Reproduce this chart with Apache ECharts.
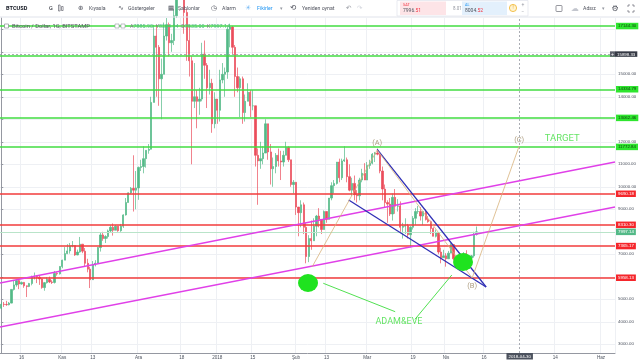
<!DOCTYPE html>
<html>
<head>
<meta charset="utf-8">
<script src="https://cdn.jsdelivr.net/npm/echarts@6/dist/echarts.min.js"></script>
<style>
html,body{margin:0;padding:0;background:#ffffff;overflow:hidden;}
#chart{width:640px;height:361px;}
</style>
</head>
<body>
<div id="chart"></div>
<script>
// ================= DATA =================
const startDate = '2017-10-08';
const dayCount = 242; // 2017-10-08 .. 2018-06-06

// Daily BTCUSD (Bitstamp) candles, 2017-10-08 .. 2018-04-13, read/
const openPrices = [
  4600,4780,4770,4760,4830,5440,5640,5830,5680,5750,5600,5570,5700,6000,6010,5980,5900,5520,5740,5890,5770,5750,6150,6130,
  6460,6740,7030,7150,7380,7390,6970,7100,7450,7140,6600,6340,5870,6530,6610,7300,7860,7700,7790,8040,8200,8070,8250,8050,8250,8750,9300,9730,9930,9850,
  9950,10860,10900,11250,11620,11670,13750,16700,16200,14800,15000,16700,17200,16400,16500,17600,19300,19000,18950,17750,16500,15600,13800,14000,13800,13900,15900,15400,14400,14600,12800,
  13900,13400,14750,15000,15100,17000,17100,16200,14900,14400,14800,13300,13800,14200,13600,13600,11400,11150,11250,11500,12800,11550,10800,10900,11400,11150,11100,11400,11750,11200,10100,
  10200,9100,8850,9200,8200,6900,7700,7600,8250,8700,8550,8100,8900,8550,9500,10050,10150,11100,10400,11150,11200,10450,9850,10150,9650,9600,10300,10600,
  10300,10950,11050,11450,11500,11450,10700,9900,9300,9230,8790,9530,9140,9150,8200,8250,8270,7870,8200,8600,8900,8900,8700,8900,8550,8450,8150,7800,7950,7100,6850,
  6930,6800,7050,7430,6800,6780,6620,6900,7030,6770,6830,6930,7885.90
];
const highPrices = [
  4890,4880,4930,4880,5450,5860,5840,5860,5790,5770,5610,5730,6050,6190,6070,6070,5920,5770,5980,6010,5850,6260,6200,6470,
  6760,7320,7450,7500,7590,7400,7210,7770,7450,7280,6800,6440,6700,6740,7320,7950,8000,7850,8100,8290,8370,8300,8260,8350,8780,9500,9750,9990,11400,10700,
  10900,11200,11800,11620,11900,14000,17200,17200,16300,15700,17300,17500,17300,16800,17900,19300,19670,19100,19000,17900,17200,15800,15500,14300,14400,16400,16500,15500,15200,14800,14200,
  13900,15200,15500,15300,17100,17250,17150,16300,15300,14900,14900,14100,14600,14300,14300,13600,11700,12000,11800,13000,12800,11900,11300,11500,11700,11600,11600,12000,11800,11200,10300,
  10200,9100,9400,9300,8400,7850,8500,8600,8750,9050,8550,8950,8900,9500,10200,10300,11100,11250,11250,11800,11300,11000,10400,10500,9850,10400,10800,11050,
  11100,11200,11500,11550,11700,11450,10900,10100,9400,9500,9700,9900,9450,9350,8400,8600,8350,8250,8700,9050,9150,9100,8900,9000,8700,8500,8200,8100,7960,7300,7200,
  7050,7150,7500,7430,6900,6800,7050,7100,7180,6880,6970,8000,8234.14
];
const lowPrices = [
  4570,4660,4710,4730,4820,5390,5560,5450,5650,5510,5100,5540,5620,5880,5720,5640,5470,5380,5700,5720,5680,5700,6050,6100,
  6380,6740,7010,7030,7310,6930,6960,7070,7050,6450,6200,5500,5860,6460,6610,7120,7600,7500,7700,7960,7830,8070,8000,8000,8170,8720,9300,9680,8900,9000,
  9420,10700,10600,10850,11470,11660,13750,14000,13600,13000,15000,16500,15800,16000,16300,17500,18800,18000,16800,15600,14900,11000,13500,12600,13200,13800,14800,13500,14100,12400,12600,
  12800,12900,14600,14000,14800,16200,15900,14000,14200,13100,12800,12900,13800,13100,13400,10900,9200,10800,11000,11500,11200,10100,10000,10600,10900,10300,10900,11400,11100,10000,9700,
  8750,7800,8200,7900,6600,6650,7200,7600,7800,8200,7900,8100,8400,8550,9400,9700,10100,10200,10300,11100,10200,9800,9600,9400,9300,9400,10200,10300,
  10300,10800,11000,11100,11400,10600,9400,9100,8400,8700,8500,8800,8900,8000,7700,7900,7700,7300,8100,8300,8800,8500,8300,8500,8400,7900,7800,7750,7000,6600,6850,
  6450,6800,7050,6720,6600,6520,6620,6880,6620,6650,6810,6850,7835.00
];
const closePrices = [
  4780,4770,4760,4830,5440,5640,5830,5680,5750,5600,5570,5700,6000,6010,5980,5900,5520,5740,5890,5770,5750,6150,6130,6460,
  6740,7030,7150,7380,7390,6970,7100,7450,7140,6600,6340,5870,6530,6610,7300,7860,7700,7790,8040,8200,8070,8250,8050,8250,8750,9300,9730,9930,9850,9950,
  10860,10900,11250,11620,11670,13750,16700,16200,14800,15000,16700,17200,16400,16500,17600,19300,19000,18950,17750,16500,15600,13800,14000,13800,13900,15900,15400,14400,14600,12800,13900,
  13400,14750,15000,15100,17000,17100,16200,14900,14400,14800,13300,13800,14200,13600,13600,11400,11150,11250,11500,12800,11550,10800,10900,11400,11150,11100,11400,11750,11200,10100,10200,
  9100,8850,9200,8200,6900,7700,7600,8250,8700,8550,8100,8900,8550,9500,10050,10150,11100,10400,11150,11200,10450,9850,10150,9650,9600,10300,10600,10300,
  10950,11050,11450,11500,11450,10700,9900,9300,9230,8790,9530,9140,9150,8200,8250,8270,7870,8200,8600,8900,8900,8700,8900,8550,8450,8150,7800,7950,7100,6850,6930,
  6800,7050,7430,6800,6780,6620,6900,7030,6770,6830,6930,7890,7997.14
];

// time-axis tick labels (Turkish TradingView)
const tickDates = ['2017-10-16','2017-11-01','2017-11-13','2017-12-01','2017-12-18','2018-01-01','2018-01-15','2018-02-01','2018-02-13','2018-03-01','2018-03-19','2018-04-01','2018-04-16','2018-05-14','2018-06-01'];
const tickTexts = ['16','Kas','13','Ara','18','2018','15','Şub','13','Mar','19','Nis','16','14','Haz'];
// price-axis labels left visible (others are covered by badges)
const priceTickValues = [3000,4000,5000,7000,9000,10000,11000,12000,14000,15000];

// horizontal level drawings
const greenLevels = [17144.30, 14334.79, 13062.46, 11772.84];
const greenLevelsNoBadge = [15820];
const redLevels = [9690.18, 8310.30, 7365.17, 5958.13];
const lastPrice = 7997.14;
const crosshairDate = '2018-04-30';
const crosshairPrice = 15898.33;

// trend drawings: [date(+time), price]
const pinkUpper = [['2017-10-07 12:00', 5724], ['2018-06-06 12:00', 11102]];
const pinkLower = [['2017-10-07 12:00', 3769], ['2018-06-06 12:00', 9102]];
const blueUpper = [['2018-03-04 22:00', 11667], ['2018-04-16 19:00', 5547]];
const blueLower = [['2018-02-21 17:00', 9413], ['2018-04-16 19:00', 5547]];
const abcPath = [['2018-02-07 07:00', 6436], ['2018-03-04 22:00', 11636], ['2018-04-11 07:00', 5947], ['2018-04-29 19:00', 11813]];
const pointerLeft = [['2018-02-11 17:00', 5711], ['2018-03-12 00:00', 4449]];
const pointerRight = [['2018-04-03 07:00', 6080], ['2018-03-19 19:00', 4111]];
const circlePoints = [['2018-02-05 17:00', 5724], ['2018-04-07 17:00', 6658]];
const noteTexts = ['(A)', '(B)', '(C)', 'TARGET', 'ADAM&EVE'];
const notePoints = [['2018-03-04 22:00', 11947], ['2018-04-11 07:00', 5591], ['2018-04-29 19:00', 12080], ['2018-05-16 17:00', 12120], ['2018-03-13 12:00', 3991]];

// ================= BUILD =================
const DAY = 86400000;
const t0 = Date.parse(startDate + 'T00:00:00Z');
const dates = [];
for (let i = 0; i < dayCount; i++) dates.push(new Date(t0 + i * DAY).toISOString().slice(0, 10));
function dayPos(s) {
  const parts = s.split(' ');
  return (Date.parse(parts[0] + 'T' + (parts[1] || '00:00') + ':00Z') - t0) / DAY;
}
const candles = closePrices.map((c, i) => [openPrices[i], c, lowPrices[i], highPrices[i]]);
const pts = arr => arr.map(p => [dayPos(p[0]), p[1]]);

const FONT = 'Liberation Sans';
const badge = (bg, fg) => ({
  show: true, position: 'end', distance: 1, fontSize: 4.4, fontFamily: FONT,
  color: fg, backgroundColor: bg, padding: [1, 2, 0.5, 2], lineHeight: 5,
  formatter: p => p.value.toFixed(2)
});

const levelLines = [];
greenLevels.forEach(v => levelLines.push({ yAxis: v, lineStyle: { color: '#42dc42', width: 1.6, type: 'solid' }, label: badge('#2ee52e', '#0b3d0b') }));
greenLevelsNoBadge.forEach(v => levelLines.push({ yAxis: v, lineStyle: { color: '#42dc42', width: 1.6, type: 'solid' }, label: { show: false } }));
redLevels.forEach(v => levelLines.push({ yAxis: v, lineStyle: { color: '#f23b3b', width: 1.6, type: 'solid' }, label: badge('#f5262b', '#ffffff') }));
levelLines.push({ yAxis: lastPrice, lineStyle: { color: '#b9e4c9', width: 1, type: 'solid' }, label: badge('#53b987', '#ffffff') });
levelLines.push({ yAxis: crosshairPrice, lineStyle: { color: '#9598a1', width: 0.8, type: [2, 2] },
  label: { show: true, position: 'end', distance: -5, fontFamily: FONT, fontSize: 4.4,
    formatter: '{p|+}{v|' + crosshairPrice.toFixed(2) + '}',
    rich: { p: { backgroundColor: '#5d606b', color: '#fff', width: 5, align: 'center', fontSize: 5, lineHeight: 6, padding: [0.5, 0, 0, 0] },
            v: { backgroundColor: '#363a45', color: '#fff', fontSize: 4.4, padding: [1, 2, 0.5, 2], lineHeight: 5 } } } });
levelLines.push({ xAxis: crosshairDate, lineStyle: { color: '#9598a1', width: 0.8, type: [2, 2] },
  label: { show: true, position: 'start', distance: 0, formatter: crosshairDate, fontFamily: FONT, fontSize: 4.4,
    color: '#fff', backgroundColor: '#4c525e', padding: [1.5, 2, 1, 2] } });

function lineSeries(data, color, width) {
  return { type: 'line', xAxisIndex: 1, yAxisIndex: 0, data: pts(data), symbol: 'none', silent: true,
    lineStyle: { color: color, width: width }, z: 5, clip: true };
}

const noteStyles = [
  { color: '#9a8663', fontSize: 7.5 }, { color: '#9a8663', fontSize: 7.5 }, { color: '#9a8663', fontSize: 7.5 },
  { color: '#3ddd3d', fontSize: 9.5 }, { color: '#3ddd3d', fontSize: 9 }
];

const option = {
  animation: false,
  backgroundColor: '#ffffff',
  grid: { left: 0, right: 25, top: 18, bottom: 8, containLabel: false },
  xAxis: [{
    type: 'category', data: dates, boundaryGap: true,
    axisLine: { show: true, lineStyle: { color: '#9598a1', width: 1 } },
    axisTick: { show: false },
    axisLabel: {
      interval: (i, v) => tickDates.indexOf(v) >= 0,
      formatter: v => tickTexts[tickDates.indexOf(v)] || '',
      fontSize: 4.6, fontFamily: FONT, color: '#4c525e', margin: 2
    },
    splitLine: { show: true, interval: (i, v) => tickDates.indexOf(v) >= 0, lineStyle: { color: '#eef0f4', width: 1 } }
  }, {
    type: 'value', min: -0.5, max: dayCount - 0.5, show: false
  }],
  yAxis: [{
    type: 'value', position: 'right', min: 2613, max: 17502, splitNumber: 15, scale: true,
    axisLine: { show: true, lineStyle: { color: '#9598a1', width: 1 } },
    axisTick: { show: true, length: 2, lineStyle: { color: '#9598a1' } },
    axisLabel: {
      showMinLabel: false, showMaxLabel: false, margin: 3,
      formatter: v => priceTickValues.indexOf(v) >= 0 ? v.toFixed(2) : '',
      fontSize: 4.4, fontFamily: FONT, color: '#4c525e'
    },
    splitLine: { show: true, showMinLine: false, showMaxLine: false, lineStyle: { color: '#eef0f4', width: 1 } }
  }],
  series: [
    {
      type: 'candlestick', xAxisIndex: 0, yAxisIndex: 0, data: candles, barWidth: 1.8, clip: true, z: 2, silent: true,
      itemStyle: { color: '#53b987', color0: '#eb4d5c', borderColor: '#53b987', borderColor0: '#eb4d5c', borderWidth: 0.7 }
    },
    {
      type: 'line', xAxisIndex: 0, yAxisIndex: 0, data: [], z: 4, silent: true,
      markLine: { silent: true, symbol: ['none', 'none'], animation: false, data: levelLines }
    },
    lineSeries(pinkUpper, '#e040e8', 1.3),
    lineSeries(pinkLower, '#e040e8', 1.3),
    lineSeries(blueUpper, '#2f2fb5', 1.3),
    lineSeries(blueLower, '#2f2fb5', 1.3),
    lineSeries(abcPath, '#d8b27c', 0.8),
    lineSeries(pointerLeft, '#3ddd3d', 0.9),
    lineSeries(pointerRight, '#3ddd3d', 0.9),
    {
      type: 'scatter', xAxisIndex: 1, yAxisIndex: 0, data: pts(circlePoints), symbol: 'circle', symbolSize: [20, 18],
      itemStyle: { color: '#1fe31f', opacity: 1 }, z: 6, silent: true
    },
    {
      type: 'scatter', xAxisIndex: 1, yAxisIndex: 0, symbolSize: 0, z: 7, silent: true,
      data: notePoints.map((p, i) => ({ value: [dayPos(p[0]), p[1]], name: noteTexts[i],
        label: { show: true, position: 'inside', formatter: '{b}', fontFamily: 'Roboto', color: noteStyles[i].color, fontSize: noteStyles[i].fontSize } }))
    }
  ],
  graphic: [
    // toolbar
    { type: 'line', shape: { x1: 0, y1: 17, x2: 640, y2: 17 }, style: { stroke: '#e0e3eb', lineWidth: 1 }, z: 100 },
    { type: 'text', x: 6, y: 8.5, style: { text: 'BTCUSD', fontSize: 5.6, fontWeight: 'bold', fontFamily: 'Roboto', fill: '#131722', verticalAlign: 'middle' }, z: 100 },
    { type: 'text', x: 49, y: 8.5, style: { text: 'G', fontSize: 5.6, fontFamily: 'Roboto', fill: '#131722', verticalAlign: 'middle' }, z: 100 },
    { type: 'rect', shape: { x: 58.5, y: 5, width: 1.6, height: 6 }, style: { fill: 'none', stroke: '#50535e', lineWidth: 0.6 }, z: 100 },
    { type: 'rect', shape: { x: 61.5, y: 6.5, width: 1.6, height: 4 }, style: { fill: 'none', stroke: '#50535e', lineWidth: 0.6 }, z: 100 },
    { type: 'text', x: 78, y: 8.5, style: { text: '⊕', fontSize: 6.5, fontFamily: 'DejaVu Sans', fill: '#50535e', verticalAlign: 'middle' }, z: 100 },
    { type: 'text', x: 89, y: 8.5, style: { text: 'Kıyasla', fontSize: 5.2, fontFamily: 'Roboto', fill: '#50535e', verticalAlign: 'middle' }, z: 100 },
    { type: 'text', x: 118, y: 8.5, style: { text: '∿', fontSize: 7, fontFamily: 'DejaVu Sans', fill: '#50535e', verticalAlign: 'middle' }, z: 100 },
    { type: 'text', x: 128, y: 8.5, style: { text: 'Göstergeler', fontSize: 5.2, fontFamily: 'Roboto', fill: '#50535e', verticalAlign: 'middle' }, z: 100 },
    { type: 'text', x: 168, y: 8.5, style: { text: '▦', fontSize: 6.5, fontFamily: 'DejaVu Sans', fill: '#50535e', verticalAlign: 'middle' }, z: 100 },
    { type: 'text', x: 178, y: 8.5, style: { text: 'Şablonlar', fontSize: 5.2, fontFamily: 'Roboto', fill: '#50535e', verticalAlign: 'middle' }, z: 100 },
    { type: 'text', x: 211, y: 8.5, style: { text: '◷', fontSize: 7, fontFamily: 'DejaVu Sans', fill: '#50535e', verticalAlign: 'middle' }, z: 100 },
    { type: 'text', x: 222, y: 8.5, style: { text: 'Alarm', fontSize: 5.2, fontFamily: 'Roboto', fill: '#50535e', verticalAlign: 'middle' }, z: 100 },
    { type: 'text', x: 245, y: 8.5, style: { text: '☀', fontSize: 7, fontFamily: 'DejaVu Sans', fill: '#7fbef5', verticalAlign: 'middle' }, z: 100 },
    { type: 'text', x: 257, y: 8.5, style: { text: 'Fikirler', fontSize: 5.2, fontFamily: 'Roboto', fill: '#2196f3', verticalAlign: 'middle' }, z: 100 },
    { type: 'text', x: 280, y: 8.5, style: { text: '▾', fontSize: 5, fontFamily: 'DejaVu Sans', fill: '#9598a1', verticalAlign: 'middle' }, z: 100 },
    { type: 'text', x: 290, y: 8.5, style: { text: '⟲', fontSize: 7.5, fontFamily: 'DejaVu Sans', fill: '#50535e', verticalAlign: 'middle' }, z: 100 },
    { type: 'text', x: 302, y: 8.5, style: { text: 'Yeniden oynat', fontSize: 5.2, fontFamily: 'Roboto', fill: '#50535e', verticalAlign: 'middle' }, z: 100 },
    { type: 'text', x: 346, y: 8.5, style: { text: '↶', fontSize: 6.5, fontFamily: 'DejaVu Sans', fill: '#9598a1', verticalAlign: 'middle' }, z: 100 },
    { type: 'text', x: 357, y: 8.5, style: { text: '↷', fontSize: 6.5, fontFamily: 'DejaVu Sans', fill: '#d1d4dc', verticalAlign: 'middle' }, z: 100 },
    // buy / sell widget
    { type: 'rect', shape: { x: 397, y: 0.5, width: 131, height: 15.5 }, style: { fill: '#ffffff', stroke: '#e0e3eb', lineWidth: 0.7 }, z: 100 },
    { type: 'rect', shape: { x: 400, y: 1.5, width: 46, height: 13.5 }, style: { fill: '#fde4e7' }, z: 101 },
    { type: 'text', x: 403, y: 5, style: { text: 'SAT', fontSize: 3.8, fontFamily: 'Roboto', fill: '#f23645', verticalAlign: 'middle' }, z: 102 },
    { type: 'text', x: 403, y: 11.2, style: { text: '7996.{r|51}', fontSize: 5, fontFamily: 'Roboto', fill: '#50535e', verticalAlign: 'middle', rich: { r: { fill: '#f23645', fontSize: 5, fontFamily: 'Roboto' } } }, z: 102 },
    { type: 'text', x: 453, y: 8.5, style: { text: '8.01', fontSize: 4.5, fontFamily: 'Roboto', fill: '#9598a1', verticalAlign: 'middle' }, z: 102 },
    { type: 'rect', shape: { x: 462, y: 1.5, width: 45, height: 13.5 }, style: { fill: '#e3f0fc' }, z: 101 },
    { type: 'text', x: 465, y: 5, style: { text: 'AL', fontSize: 3.8, fontFamily: 'Roboto', fill: '#2196f3', verticalAlign: 'middle' }, z: 102 },
    { type: 'text', x: 465, y: 11.2, style: { text: '8004.{r|52}', fontSize: 5, fontFamily: 'Roboto', fill: '#50535e', verticalAlign: 'middle', rich: { r: { fill: '#f23645', fontSize: 5, fontFamily: 'Roboto' } } }, z: 102 },
    { type: 'circle', shape: { cx: 513, cy: 8, r: 3.6 }, style: { fill: '#fff3cf', stroke: '#f0b429', lineWidth: 0.8 }, z: 102 },
    { type: 'text', x: 513, y: 8.2, style: { text: '!', fontSize: 4.5, fontFamily: 'Roboto', fill: '#e0a020', align: 'center', verticalAlign: 'middle' }, z: 103 },
    { type: 'text', x: 523, y: 4.5, style: { text: '+', fontSize: 5, fontFamily: 'Roboto', fill: '#9598a1', align: 'center', verticalAlign: 'middle' }, z: 102 },
    { type: 'text', x: 523, y: 12, style: { text: '−', fontSize: 5, fontFamily: 'Roboto', fill: '#9598a1', align: 'center', verticalAlign: 'middle' }, z: 102 },
    { type: 'rect', shape: { x: 556, y: 5.5, width: 6, height: 6, r: 0.8 }, style: { fill: 'none', stroke: '#50535e', lineWidth: 0.6 }, z: 100 },
    { type: 'text', x: 571, y: 8.5, style: { text: '☁', fontSize: 8, fontFamily: 'DejaVu Sans', fill: '#c3c6ce', verticalAlign: 'middle' }, z: 100 },
    { type: 'text', x: 583, y: 8.5, style: { text: 'Adsız', fontSize: 5.2, fontFamily: 'Roboto', fill: '#50535e', verticalAlign: 'middle' }, z: 100 },
    { type: 'text', x: 602, y: 8.5, style: { text: '▾', fontSize: 5, fontFamily: 'DejaVu Sans', fill: '#9598a1', verticalAlign: 'middle' }, z: 100 },
    { type: 'text', x: 615, y: 8.5, style: { text: '⚙', fontSize: 8, fontFamily: 'DejaVu Sans', fill: '#50535e', align: 'center', verticalAlign: 'middle' }, z: 100 },
    { type: 'polyline', shape: { points: [[628, 7], [628, 5], [630, 5]] }, style: { stroke: '#50535e', lineWidth: 0.6, fill: 'none' }, z: 100 },
    { type: 'polyline', shape: { points: [[632, 5], [634, 5], [634, 7]] }, style: { stroke: '#50535e', lineWidth: 0.6, fill: 'none' }, z: 100 },
    { type: 'polyline', shape: { points: [[628, 10], [628, 12], [630, 12]] }, style: { stroke: '#50535e', lineWidth: 0.6, fill: 'none' }, z: 100 },
    { type: 'polyline', shape: { points: [[632, 12], [634, 12], [634, 10]] }, style: { stroke: '#50535e', lineWidth: 0.6, fill: 'none' }, z: 100 },
    // legend row
    { type: 'rect', shape: { x: 4.5, y: 24, width: 4, height: 4 }, style: { fill: '#ffffff', stroke: '#787b86', lineWidth: 0.6 }, z: 100 },
    { type: 'text', x: 12, y: 26.3, style: { text: 'Bitcoin / Dollar, 1G, BITSTAMP', fontSize: 5.8, fontFamily: 'Roboto', fill: '#50535e', verticalAlign: 'middle' }, z: 100 },
    { type: 'rect', shape: { x: 115, y: 24, width: 4, height: 4 }, style: { fill: '#ffffff', stroke: '#9598a1', lineWidth: 0.6 }, z: 100 },
    { type: 'rect', shape: { x: 121, y: 24, width: 4, height: 4 }, style: { fill: '#ffffff', stroke: '#9598a1', lineWidth: 0.6 }, z: 100 },
    { type: 'text', x: 130, y: 26.3, z: 100, style: {
      text: '{l|A}{v|7885.90}  {l|Y}{v|8234.14}  {l|D}{v|7835.00}  {l|K}{v|7997.14}',
      fontSize: 5.4, fontFamily: 'Roboto', verticalAlign: 'middle',
      rich: { l: { fill: '#787b86', fontSize: 5.4, fontFamily: 'Roboto' }, v: { fill: '#53b987', fontSize: 5.4, fontFamily: 'Roboto' } } } }
  ]
};

const chart = echarts.init(document.getElementById('chart'), null, { renderer: 'canvas' });
chart.setOption(option);
</script>
</body>
</html>
